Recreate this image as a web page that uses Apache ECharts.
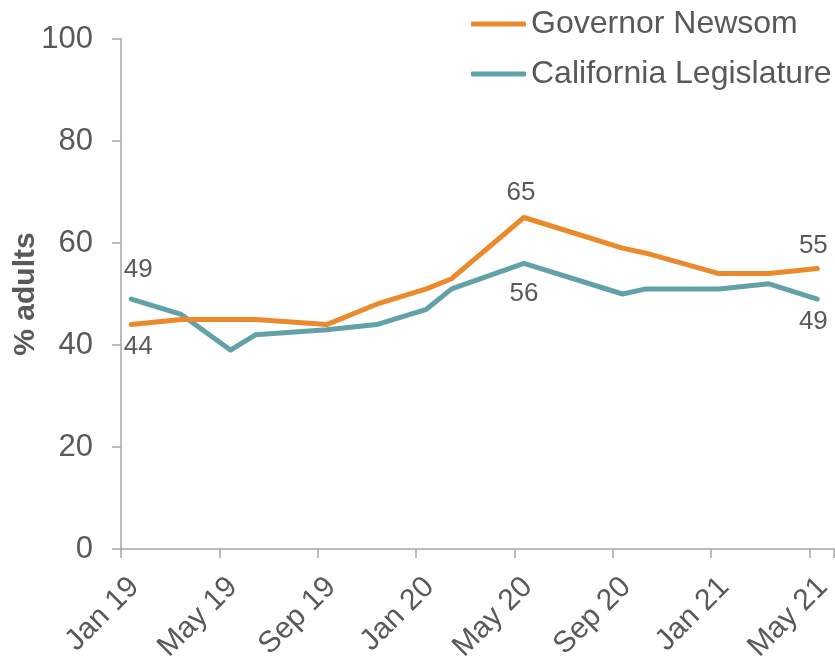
<!DOCTYPE html>
<html>
<head>
<meta charset="utf-8">
<script src="https://cdn.jsdelivr.net/npm/echarts@6/dist/echarts.min.js"></script>
<style>
html,body{margin:0;padding:0;background:#fff;}
#chart{width:835px;height:662px;}
</style>
</head>
<body>
<div id="chart"></div>
<script>
// Survey dates (as plotted)
const surveyDates = ['2019-01-14','2019-03-15','2019-05-15','2019-06-15','2019-09-12','2019-11-13',
  '2020-01-14','2020-02-14','2020-05-13','2020-09-13','2020-10-12','2021-01-11','2021-03-12','2021-05-11'];
const newsom      = [44, 45, 45, 45, 44, 48, 51, 53, 65, 59, 58, 54, 54, 55];
const legislature = [49, 46, 39, 42, 43, 44, 47, 51, 56, 50, 51, 51, 52, 49];
const tickLabels  = ['Jan 19','May 19','Sep 19','Jan 20','May 20','Sep 20','Jan 21','May 21'];
const seriesNames = ['Governor Newsom', 'California Legislature'];

const TEXT = '#595959', AXIS = '#A6A6A6';
const FONT = '"Liberation Sans", Arial, sans-serif';

function monthIndex(s) {
  const [y, m, d] = s.split('-').map(Number);
  const dim = new Date(y, m, 0).getDate();
  return (y - 2019) * 12 + (m - 1) + (d - 1) / dim;
}
const xs = surveyDates.map(monthIndex);

// labels on selected points: index -> [position, distance, offsetX]
const newsomLabels = {0: ['bottom', 9, 7], 8: ['top', 11, -3], 13: ['top', 9, -4]};
const legisLabels  = {0: ['top', 16, 7], 8: ['bottom', 17, 0], 13: ['bottom', 9, -4]};

function buildData(vals, labels) {
  return vals.map((v, i) => {
    const item = {value: [xs[i], v]};
    if (labels[i]) {
      item.label = {show: true, position: labels[i][0], distance: labels[i][1],
        offset: [labels[i][2], 0]};
    }
    return item;
  });
}

const chart = echarts.init(document.getElementById('chart'));
chart.setOption({
  backgroundColor: '#fff',
  animation: false,
  textStyle: {fontFamily: FONT},
  grid: {left: 121, right: 1, top: 39, bottom: 113, containLabel: false, outerBoundsMode: 'none'},
  legend: {
    orient: 'vertical', left: 471, top: 8, padding: 0,
    itemWidth: 55, itemHeight: 5, itemGap: 18,
    icon: 'roundRect',
    textStyle: {color: TEXT, fontSize: 32, fontFamily: FONT},
    data: seriesNames
  },
  xAxis: {
    type: 'value', min: 0, max: 29, interval: 4,
    axisLine: {show: true, lineStyle: {color: AXIS, width: 1.5}},
    axisTick: {show: true, length: 9, lineStyle: {color: AXIS, width: 1.5}},
    splitLine: {show: false},
    axisLabel: {
      rotate: 45, margin: 20, color: TEXT, fontSize: 30, fontFamily: FONT,
      verticalAlign: 'top', lineHeight: 38,
      formatter: v => (v % 4 === 0 && tickLabels[v / 4]) ? tickLabels[v / 4] : ''
    }
  },
  yAxis: {
    type: 'value', min: 0, max: 100, interval: 20,
    name: '% adults', nameLocation: 'middle', nameRotate: 90, nameGap: 80,
    nameMoveOverlap: false,
    nameTextStyle: {color: TEXT, fontSize: 30, fontWeight: 'bold', fontFamily: FONT},
    axisLine: {show: true, lineStyle: {color: AXIS, width: 1.5}},
    axisTick: {show: true, length: 9, lineStyle: {color: AXIS, width: 1.5}},
    splitLine: {show: false},
    axisLabel: {margin: 28, color: TEXT, fontSize: 31, fontFamily: FONT}
  },
  series: [
    {
      name: seriesNames[0], type: 'line', data: buildData(newsom, newsomLabels),
      symbol: 'circle', symbolSize: 1, clip: false,
      itemStyle: {color: '#EA8A2C'},
      lineStyle: {color: '#EA8A2C', width: 5, cap: 'round', join: 'round'},
      label: {show: false, color: TEXT, fontSize: 26, fontFamily: FONT},
      z: 3
    },
    {
      name: seriesNames[1], type: 'line', data: buildData(legislature, legisLabels),
      symbol: 'circle', symbolSize: 1, clip: false,
      itemStyle: {color: '#62A1A7'},
      lineStyle: {color: '#62A1A7', width: 5, cap: 'round', join: 'round'},
      label: {show: false, color: TEXT, fontSize: 26, fontFamily: FONT},
      z: 2
    }
  ]
});
</script>
</body>
</html>
